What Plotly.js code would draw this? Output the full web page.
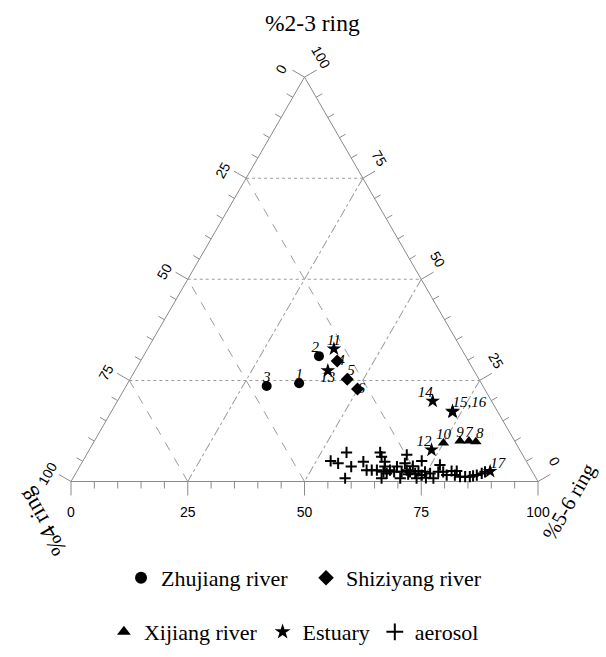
<!DOCTYPE html>
<html><head><meta charset="utf-8">
<script src="https://cdn.plot.ly/plotly-3.0.1.min.js"></script>
<style>html,body{margin:0;padding:0;background:#fff}</style>
</head><body>
<div id="chart" style="width:606px;height:657px"></div>
<script>
// Percentages: ring23 = %2-3 ring (top), ring4 = %4 ring (left), ring56 = %5-6 ring (right)
const zhujiangLabels = ['1', '2', '3'];
const zhujiangRing23 = [24.3, 31.0, 23.6];
const zhujiangRing4  = [39.0, 31.4, 46.3];
const zhujiangRing56 = [36.7, 37.6, 30.1];

const shiziyangLabels = ['4', '5', '6'];
const shiziyangRing23 = [29.8, 25.3, 22.9];
const shiziyangRing4  = [28.1, 28.2, 27.2];
const shiziyangRing56 = [42.1, 46.5, 49.9];

const xijiangLabels = ['7', '8', '9', '10'];
const xijiangRing23 = [10.0, 9.8, 10.0, 9.5];
const xijiangRing4  = [9.8, 8.4, 11.7, 15.5];
const xijiangRing56 = [80.2, 81.8, 78.3, 75.0];

const estuaryLabels = ['11', '12', '13', '14', '15,16', '', '17'];
const estuaryRing23 = [32.8, 7.8, 27.4, 19.9, 17.4, 17.2, 2.5];
const estuaryRing4  = [27.3, 18.9, 31.3, 12.6, 9.6, 9.7, 9.0];
const estuaryRing56 = [39.9, 73.3, 41.3, 67.5, 73.0, 73.1, 88.5];

const aerosolRing23 = [7.2,5.1,4.5,3.7,0.8,4.9,2.8,2.8,2.8,7.2,6.1,4.9,3.7,2.4,2.0,0.8,2.8,2.4,0.8,4.5,2.8,1.8,2.4,6.6,5.1,4.1,2.4,2.0,2.6,1.6,2.4,2.0,0.8,0.8,2.4,2.4,1.6,2.6,2.6,1.6,1.2,1.2,1.2,1.4,1.6,2.0,2.4,3.8,3.7,0.9];
const aerosolRing4  = [37.4,41.85,40.55,38.15,40.9,34.95,35.3,34.2,33.1,30.2,30.45,30.35,30.95,31.9,31.4,33.1,30.3,29.6,29.1,26.25,26.7,26.9,28.0,24.8,22.35,18.95,26.2,25.3,24.3,24.1,23.0,22.1,22.0,25.6,20.15,19.1,18.75,17.2,16.1,17.0,16.1,15.0,14.0,13.2,12.3,11.05,10.15,24.9,28.35,23.55];
const aerosolRing56 = [55.4,53.05,54.95,58.15,58.3,60.15,61.9,63.0,64.1,62.6,63.45,64.75,65.35,65.7,66.6,66.1,66.9,68.0,70.1,69.25,70.5,71.3,69.6,68.6,72.55,76.95,71.4,72.7,73.1,74.3,74.6,75.9,77.2,73.6,77.45,78.5,79.65,80.2,81.3,81.4,82.7,83.8,84.8,85.4,86.1,86.95,87.45,71.3,67.95,75.55];

// Axis ticks
const majorTicks = [0, 25, 50, 75, 100];
const leftTickText   = ['100', '75', '50', '25', '0'];   // %4 ring read along the left edge (at a = 0..100)
const rightTickText  = ['100', '75', '50', '25', '0'];   // %2-3 ring read along the right edge (at c = 0..100)
const bottomTickVals = [0, 25, 50, 75, 100];              // %5-6 ring along the bottom edge
const bottomTickText = ['0', '25', '50', '75', '100'];
const minorTicks = [];
for (let v = 0; v <= 100; v += 5) minorTicks.push(v);

// Geometry of the page
const W = 606, H = 657;
const BASE_L = 71, BASE_R = 538, BASE_Y = 481.5;
const side = BASE_R - BASE_L;
const S3 = Math.sqrt(3) / 2;
const triH = side * S3;
const dom = {x: [BASE_L / W, BASE_R / W], y: [1 - BASE_Y / H, 1 - (BASE_Y - triH) / H]};
const pxPerUnit = side / 100;
// hidden cartesian overlay in "percent of side" units, aligned to the triangle
const xRange = [-BASE_L / pxPerUnit, (W - BASE_L) / pxPerUnit];
const yRange = [-(H - BASE_Y) / pxPerUnit, BASE_Y / pxPerUnit];

const serif = 'Liberation Serif, Times New Roman, serif';
const sans = 'Liberation Sans, Arial, sans-serif';
const edge = '#8a8a8a';
const gridC = '#9c9c9c';

const traces = [];

// tick marks, perpendicular to each edge (minor every 5, major every 25)
function edgePoint(e, v) {
  if (e === 'bottom') return [v, 0];
  if (e === 'left') return [(100 - v) / 2, (100 - v) * S3];
  return [100 - v / 2, v * S3];
}
const outward = {bottom: [0, -1], left: [-S3, 0.5], right: [S3, 0.5]};
const tickX = [], tickY = [];
['bottom', 'left', 'right'].forEach(e => minorTicks.forEach(v => {
  const L = (v % 25 === 0 ? 14 : 7) / pxPerUnit;
  const p = edgePoint(e, v), d = outward[e];
  tickX.push(p[0], p[0] + d[0] * L, null);
  tickY.push(p[1], p[1] + d[1] * L, null);
}));
traces.push({type: 'scatter', x: tickX, y: tickY, mode: 'lines', line: {color: edge, width: 1},
  hoverinfo: 'skip', showlegend: false, cliponaxis: false});
traces.push({type: 'scatter', x: bottomTickVals, y: bottomTickVals.map(() => -31.5 / pxPerUnit),
  mode: 'text', text: bottomTickText, textposition: 'middle center',
  textfont: {family: sans, size: 14, color: '#000'}, hoverinfo: 'skip', showlegend: false});

const groups = [
  {name: 'Zhujiang river', a: zhujiangRing23, b: zhujiangRing4, c: zhujiangRing56, t: zhujiangLabels,
   marker: {symbol: 'circle', size: 10, color: '#000'}, legend: 'legend',
   pos: ['top center', 'top left', 'top center']},
  {name: 'Shiziyang river', a: shiziyangRing23, b: shiziyangRing4, c: shiziyangRing56, t: shiziyangLabels,
   marker: {symbol: 'diamond', size: 10, color: '#000'}, legend: 'legend',
   pos: ['middle right', 'top right', 'middle right']},
  {name: 'Xijiang river', a: xijiangRing23, b: xijiangRing4, c: xijiangRing56, t: xijiangLabels,
   marker: {symbol: 'triangle-up', size: 10, color: '#000'}, legend: 'legend2',
   pos: ['top center', 'top right', 'top center', 'top center']},
  {name: 'Estuary', a: estuaryRing23, b: estuaryRing4, c: estuaryRing56, t: estuaryLabels,
   marker: {symbol: 'star', size: 11, color: '#000'}, legend: 'legend2',
   pos: ['top center', 'top left', 'bottom center', 'top left', 'top right', 'top right', 'top right']},
  {name: 'aerosol', a: aerosolRing23, b: aerosolRing4, c: aerosolRing56, t: null,
   marker: {symbol: 'cross-thin-open', size: 8, color: '#000', line: {width: 2, color: '#000'}}, legend: 'legend2'}
];
groups.forEach(g => {
  traces.push({type: 'scatterternary', subplot: 'ternary', name: g.name, legend: g.legend,
    a: g.a, b: g.b, c: g.c, mode: 'markers', marker: g.marker, cliponaxis: false});
});
groups.forEach(g => {
  if (!g.t) return;
  traces.push({type: 'scatterternary', subplot: 'ternary', showlegend: false,
    a: g.a, b: g.b, c: g.c, mode: 'text', text: g.t, textposition: g.pos,
    textfont: {family: serif, size: 15, color: '#000', style: 'italic'}, cliponaxis: false});
});

const tickFont = {family: sans, size: 14, color: '#000'};
function ax(extra) {
  return Object.assign({
    title: {text: ''}, min: 0, showline: true, linecolor: edge, linewidth: 1,
    showgrid: true, gridcolor: gridC, gridwidth: 1, layer: 'below traces',
    tickmode: 'array', tickvals: majorTicks, tickfont: tickFont,
    ticks: 'outside', ticklen: 14, tickcolor: 'rgba(0,0,0,0)'
  }, extra);
}

const layout = {
  width: W, height: H, margin: {l: 0, r: 0, t: 0, b: 0},
  paper_bgcolor: '#fff', plot_bgcolor: '#fff',
  xaxis: {domain: [0, 1], range: xRange, visible: false, fixedrange: true},
  yaxis: {domain: [0, 1], range: yRange, visible: false, fixedrange: true},
  ternary: {domain: dom, sum: 100, bgcolor: 'rgba(0,0,0,0)',
    aaxis: ax({griddash: 'dot', ticktext: leftTickText, showticklabels: true, tickangle: -60}),
    baxis: ax({griddash: 'dash', showticklabels: false, ticks: ''}),
    caxis: ax({griddash: 'dashdot', ticktext: rightTickText, showticklabels: true, tickangle: 60})},
  legend: {orientation: 'h', x: 0.505, xanchor: 'center', y: 1 - 578 / H, yanchor: 'middle',
    itemsizing: 'constant', entrywidth: 140,
    font: {family: serif, size: 22, color: '#000'}, bgcolor: 'rgba(0,0,0,0)'},
  legend2: {orientation: 'h', x: 0.485, xanchor: 'center', y: 1 - 632 / H, yanchor: 'middle',
    itemsizing: 'constant',
    font: {family: serif, size: 22, color: '#000'}, bgcolor: 'rgba(0,0,0,0)'},
  annotations: [
    {text: '%2-3 ring', xref: 'paper', yref: 'paper', x: 312 / W, y: 1 - 23 / H, xanchor: 'center', yanchor: 'middle', showarrow: false, font: {family: serif, size: 23.5, color: '#000'}},
    {text: '%4 ring', xref: 'paper', yref: 'paper', x: 42 / W, y: 1 - 522 / H, xanchor: 'center', yanchor: 'middle', showarrow: false, textangle: -120, font: {family: serif, size: 23, color: '#000'}},
    {text: '%5-6 ring', xref: 'paper', yref: 'paper', x: 569 / W, y: 1 - 502 / H, xanchor: 'center', yanchor: 'middle', showarrow: false, textangle: -60, font: {family: serif, size: 21, color: '#000'}}
  ]
};

Plotly.newPlot('chart', traces, layout, {staticPlot: true, displayModeBar: false});
</script>
</body></html>
